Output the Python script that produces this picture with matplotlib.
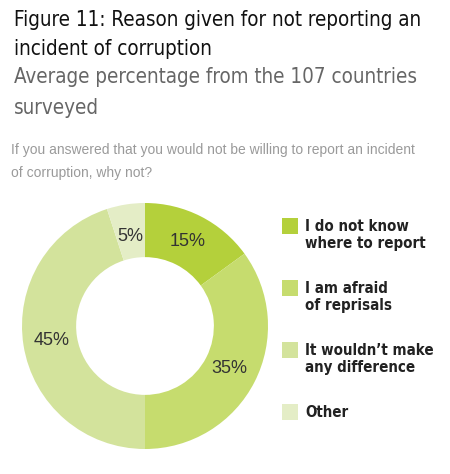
import matplotlib.pyplot as plt
import numpy as np
from matplotlib.patches import Rectangle

# data
categories = ['I do not know\nwhere to report', 'I am afraid\nof reprisals',
              "It wouldn\u2019t make\nany difference", 'Other']
values = [15, 35, 45, 5]
colors = ['#b4d03b', '#c6dc6e', '#d3e39c', '#e4edc6']

fig = plt.figure(figsize=(4.5, 4.74), dpi=100)

# titles
fig.text(0.03, 1 - 10/474, 'Figure 11: Reason given for not reporting an\nincident of corruption',
         fontsize=14.8, color='#111111', family='DejaVu Sans', stretch='condensed',
         va='top', linespacing=1.58)
fig.text(0.03, 1 - 67/474, 'Average percentage from the 107 countries\nsurveyed',
         fontsize=14.8, color='#666666', family='DejaVu Sans', stretch='condensed',
         va='top', linespacing=1.7)
fig.text(0.025, 1 - 143/474, 'If you answered that you would not be willing to report an incident\nof corruption, why not?',
         fontsize=10, color='#9a9a9a', family=['Liberation Sans', 'DejaVu Sans'],
         va='top', linespacing=1.85)

# donut
ax = fig.add_axes([(145 - 123)/450, 1 - (326 + 123)/474, 246/450, 246/474])
wedges, _ = ax.pie(values, colors=colors, startangle=90, counterclock=False,
                   radius=1.0, wedgeprops=dict(width=0.44, edgecolor='none'))
ax.set_xlim(-1, 1)
ax.set_ylim(-1, 1)
ax.set_aspect('equal')

for w, v in zip(wedges, values):
    mid = np.deg2rad((w.theta1 + w.theta2) / 2)
    r = 0.77 if v > 5 else 0.74
    ax.text(r * np.cos(mid), r * np.sin(mid), f'{v}%', ha='center', va='center',
            fontsize=13, color='#333333', family=['Liberation Sans', 'DejaVu Sans'])

# legend
y0 = 1 - 226/474
for i, (lab, c) in enumerate(zip(categories, colors)):
    y = y0 - i * (62/474)
    fig.patches.append(Rectangle((282/450, y - 8/474), 16/450, 16/474,
                                 transform=fig.transFigure, facecolor=c, edgecolor='none'))
    fig.text(305/450, y + 7/474, lab, fontsize=10.8, fontweight='bold', color='#222222',
             family='DejaVu Sans', stretch='condensed', va='top', linespacing=1.15)

fig.savefig('out.png', dpi=100)
